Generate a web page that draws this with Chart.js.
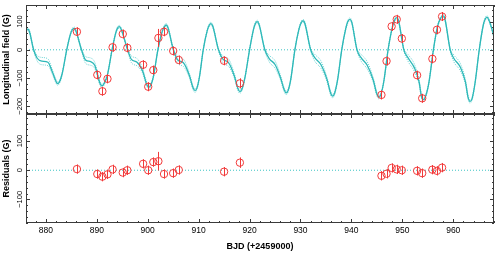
<!DOCTYPE html>
<html><head><meta charset="utf-8">
<script src="https://cdn.jsdelivr.net/npm/chart.js@4"></script>
<style>html,body{margin:0;padding:0;background:#fff}canvas{display:block}</style>
</head><body>
<canvas id="c" width="499" height="253"></canvas>
<script>
// ---------- data ----------
const obsDay = [886.1, 890.1, 891.1, 892.1, 893.1, 895.1, 896.0, 899.1, 900.1, 901.1, 902.1, 903.2, 905.0, 906.1, 915.0, 918.1, 945.9, 946.9, 947.9, 948.9, 949.9, 952.9, 953.9, 955.9, 956.8, 957.8];
const obsField = [64, -89, -147, -103, 9, 56, 7, -53, -131, -72, 42, 64, -4, -36, -39, -119, -160, -40, 83, 108, 40, -90, -172, -32, 71, 118];
const obsError = [16, 16, 16, 16, 16, 16, 16, 16, 16, 16, 32, 16, 16, 16, 16, 18, 16, 16, 16, 16, 16, 16, 16, 16, 16, 16];
const residuals = [4, -13, -22, -14, 3, -8, 0, 22, 0, 28, 31, -13, -10, 1, -5, 26, -19, -12, 8, 3, 0, -2, -10, 2, -2, 9];

const modelDay = [
  876.0, 876.4, 876.75, 877.6, 878.3, 879.2, 880.4, 881.3, 881.9, 882.3, 882.7, 883.2, 884.1, 884.8, 885.15, 885.5,
  885.85, 887.0, 887.8, 888.8, 889.6, 890.2, 890.6, 891.0, 891.4, 892.1, 893.0, 893.7, 894.05, 894.4,
  894.75, 896.05, 896.8, 897.9, 899.0, 899.8, 900.2, 900.6, 901.1, 902.0, 902.8, 903.2, 903.6,
  903.95, 905.0, 905.9, 907.0, 908.2, 908.9, 909.3, 909.7, 910.2, 910.9, 911.7, 912.05, 912.4,
  912.75, 913.9, 914.8, 915.9, 917.0, 917.7, 918.1, 918.5, 919.1, 920.0, 920.8, 921.15, 921.5,
  921.85, 923.0, 923.9, 925.0, 926.1, 926.8, 927.2, 927.6, 928.1, 928.9, 929.7, 930.1, 930.5,
  930.85, 932.0, 932.8, 934.0, 935.2, 935.9, 936.3, 936.7, 937.3, 938.1, 938.9, 939.3, 939.7,
  940.05, 941.1, 941.9, 943.1, 944.3, 945.0, 945.4, 945.8, 946.4, 947.2, 948.0, 948.5, 948.9,
  949.25, 950.3, 951.1, 952.4, 953.3, 953.75, 954.1, 954.5, 955.2, 956.1, 956.9, 957.5, 958.0,
  958.35, 959.4, 960.1, 961.4, 962.4, 962.9, 963.3, 963.7, 964.3, 965.1, 965.9, 966.25, 966.6, 967.0, 967.4, 968.0];
const modelField = [
  68, 73, 66, 0, -30, -40, -44, -80, -108, -120, -113, -85, 0, 54, 70, 76,
  69, 0, -36, -42, -55, -92, -118, -128, -121, -88, 0, 58, 76, 82,
  75, 0, -34, -44, -75, -122, -133, -125, -97, 0, 62, 80, 88,
  80, 3, -36, -46, -92, -135, -145, -134, -92, 0, 69, 86, 93,
  85, 0, -34, -46, -92, -137, -148, -140, -98, 0, 74, 93, 100,
  91, 0, -32, -52, -100, -142, -153, -143, -104, 0, 73, 95, 103,
  94, 0, -28, -52, -105, -152, -164, -154, -105, 0, 76, 100, 108,
  99, 0, -28, -55, -108, -157, -168, -158, -108, 0, 77, 106, 114,
  104, 0, -28, -65, -115, -165, -177, -168, -118, 0, 82, 112, 120,
  110, 0, -30, -62, -115, -168, -183, -173, -115, 0, 88, 108, 116, 106, 85, 46];
const modelSpread = [
  5, 5, 5, 4, 10, 13, 12, 8, 7, 6, 5, 4, 3, 4, 5, 5,
  5, 4, 12, 13, 11, 8, 7, 6, 5, 4, 3, 4, 5, 5,
  5, 4, 12, 13, 8, 7, 6, 5, 4, 3, 4, 5, 5,
  5, 4, 12, 13, 8, 7, 6, 5, 4, 3, 4, 5, 5,
  5, 4, 12, 13, 8, 7, 6, 5, 4, 3, 4, 5, 5,
  5, 4, 12, 13, 8, 7, 6, 5, 4, 3, 4, 5, 5,
  5, 4, 12, 13, 8, 7, 6, 5, 4, 3, 4, 5, 5,
  5, 4, 12, 13, 8, 7, 6, 5, 4, 3, 4, 5, 5,
  5, 4, 12, 13, 8, 7, 6, 5, 4, 3, 4, 5, 5,
  5, 4, 12, 13, 8, 7, 6, 5, 4, 3, 4, 5, 5, 5, 4, 4];

const xTickLabels = [880, 890, 900, 910, 920, 930, 940, 950, 960];
const fieldTickLabels = [100, 0, -100, -200];
const residTickLabels = [100, 0, -100];

// ---------- styles ----------
const RED = '#f23a3a';
const TEAL = '#2db8b8';
const LIGHT = '#66d2d2';
const FRAME = '#3a3a3a';
const FONT = "'Liberation Sans', Arial, Helvetica, sans-serif";

const pts = (xs, ys) => xs.map((x, i) => ({x, y: ys[i]}));
const zeroLine = [{x: 876.1, y: 0}, {x: 968, y: 0}];

const fmt = v => v < 0 ? '\u2212' + Math.abs(v) : String(v);

const errorBars = {
  id: 'errorBars',
  afterDatasetsDraw(chart) {
    const ctx = chart.ctx;
    chart.data.datasets.forEach((ds, i) => {
      if (!ds.errs) return;
      const meta = chart.getDatasetMeta(i);
      const ys = chart.scales[ds.yAxisID];
      ctx.save();
      ctx.strokeStyle = RED; ctx.lineWidth = 1;
      meta.data.forEach((el, j) => {
        const v = ds.data[j].y, e = ds.errs[j];
        const x = Math.round(el.x) + 0.5;
        ctx.beginPath();
        ctx.moveTo(x, ys.getPixelForValue(v + e));
        ctx.lineTo(x, ys.getPixelForValue(v - e));
        ctx.stroke();
      });
      ctx.restore();
    });
  }
};

const frame = {
  id: 'frame',
  afterDraw(chart) {
    const ctx = chart.ctx;
    const xs = chart.scales.x;
    const L = chart.chartArea.left, R = chart.chartArea.right;
    const line = (a, b, c, d) => { ctx.beginPath(); ctx.moveTo(a, b); ctx.lineTo(c, d); ctx.stroke(); };
    [['yField', fieldTickLabels], ['yResid', residTickLabels]].forEach(([id, majors]) => {
      const ys = chart.scales[id];
      const T = ys.top, B = ys.bottom;
      ctx.save();
      ctx.strokeStyle = FRAME; ctx.lineWidth = 1;
      ctx.strokeRect(Math.round(L) + 0.5, Math.round(T) + 0.5, Math.round(R - L) - 1, Math.round(B - T) - 1);
      for (let v = Math.ceil(xs.min / 2) * 2; v <= xs.max; v += 2) {
        const px = Math.round(xs.getPixelForValue(v)) + 0.5;
        const len = (v % 10 === 0) ? 4 : 2;
        line(px, B, px, B - len);
        line(px, T, px, T + len);
      }
      for (let v = Math.ceil(ys.min / 20) * 20; v <= ys.max; v += 20) {
        const py = Math.round(ys.getPixelForValue(v)) + 0.5;
        const len = (v % 100 === 0) ? 4 : 2;
        line(L, py, L + len, py);
        line(R, py, R - len, py);
      }
      ctx.fillStyle = '#000';
      ctx.font = '7.5px ' + FONT;
      majors.forEach(v => {
        const py = ys.getPixelForValue(v);
        ctx.save();
        ctx.translate(19.5, py);
        ctx.rotate(-Math.PI / 2);
        ctx.textAlign = 'center'; ctx.textBaseline = 'middle';
        ctx.fillText(fmt(v), 0, 0);
        ctx.restore();
      });
      ctx.restore();
    });
  }
};

const yCommon = (min, max, title) => ({
  type: 'linear', position: 'left', stack: 'panels', stackWeight: 1,
  min, max,
  grid: {display: false, drawTicks: false}, border: {display: false},
  ticks: {display: false},
  title: {display: true, text: title, color: '#000', font: {family: FONT, size: 9, weight: 'bold'}, padding: {top: 1, bottom: 0}},
  afterFit: s => { s.width = 26; }
});

const lineDs = (data, color, width, dash) => ({
  type: 'line', data, yAxisID: 'yField', borderColor: color, borderWidth: width,
  borderDash: dash, pointRadius: 0, cubicInterpolationMode: 'monotone', fill: false
});

new Chart(document.getElementById('c'), {
  type: 'scatter',
  data: {
    datasets: [
      {data: pts(obsDay, obsField), errs: obsError, yAxisID: 'yField', xAxisID: 'x',
       pointRadius: 3.7, pointBorderColor: RED, pointBackgroundColor: 'rgba(0,0,0,0)', pointBorderWidth: 1, showLine: false},
      {data: pts(obsDay, residuals), errs: obsError, yAxisID: 'yResid', xAxisID: 'x',
       pointRadius: 3.7, pointBorderColor: RED, pointBackgroundColor: 'rgba(0,0,0,0)', pointBorderWidth: 1, showLine: false},
      lineDs(pts(modelDay, modelField), TEAL, 1.3, []),
      lineDs(pts(modelDay, modelField.map((v, i) => v + modelSpread[i])), LIGHT, 1, [1, 1.2]),
      lineDs(pts(modelDay, modelField.map((v, i) => v - modelSpread[i])), LIGHT, 1, [1, 1.2]),
      {type: 'line', data: zeroLine, yAxisID: 'yField', borderColor: '#3cc4c4', borderWidth: 1, borderDash: [1, 2], pointRadius: 0},
      {type: 'line', data: zeroLine, yAxisID: 'yResid', borderColor: '#3cc4c4', borderWidth: 1, borderDash: [1, 2], pointRadius: 0}
    ]
  },
  options: {
    responsive: false, animation: false, devicePixelRatio: 1,
    layout: {padding: {top: 0, right: 1, left: 0, bottom: 0}},
    plugins: {legend: {display: false}, tooltip: {enabled: false}},
    scales: {
      x: {
        type: 'linear', position: 'bottom', min: 876.1, max: 968,
        grid: {display: false, drawTicks: false}, border: {display: false},
        afterBuildTicks: s => { s.ticks = xTickLabels.map(v => ({value: v})); },
        ticks: {autoSkip: false, maxRotation: 0, padding: 3, color: '#000', font: {family: FONT, size: 8.5}, callback: v => fmt(v)},
        title: {display: true, text: 'BJD (+2459000)', color: '#000', font: {family: FONT, size: 9, weight: 'bold'}, padding: {top: 0, bottom: 1}},
        afterFit: s => { s.height = 30; }
      },
      yResid: yCommon(-181, 193, 'Residuals (G)'),
      yField: yCommon(-227.7, 158.9, 'Longitudinal field (G)')
    }
  },
  plugins: [errorBars, frame]
});
</script></body></html>
